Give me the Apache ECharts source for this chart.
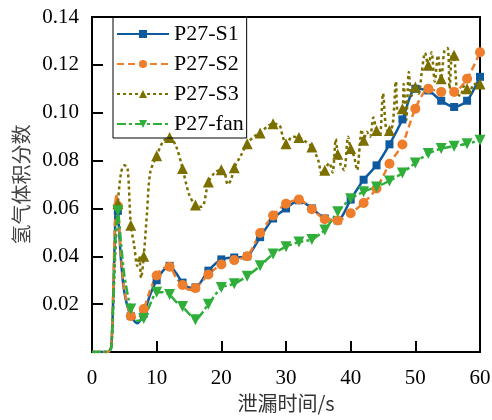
<!DOCTYPE html>
<html>
<head>
<meta charset="utf-8">
<script src="https://cdn.jsdelivr.net/npm/echarts@6/dist/echarts.min.js"></script>
<style>
  html, body { margin: 0; padding: 0; background: #fff; }
  #chart { width: 492px; height: 420px; }
</style>
</head>
<body>
<div id="chart"></div>
<script>
// Hydrogen volume fraction vs. leak time for four monitoring points
const seriesNames = ['P27-S1', 'P27-S2', 'P27-S3', 'P27-fan'];

const s1Time = [0, 2, 2.5, 3, 3.5, 3.75, 4, 4.5, 5, 6, 7, 8, 9, 10, 11, 12, 13, 14, 15, 16,
  18, 20, 22, 24, 26, 28, 30, 32, 34, 36, 38, 40, 42, 44, 46, 48, 50, 52, 54, 56, 58, 60];
const s1Value = [0, 0, 0, 0.002, 0.045, 0.065, 0.059, 0.038, 0.025, 0.015, 0.012, 0.016, 0.024, 0.030, 0.034, 0.036, 0.033, 0.029, 0.027, 0.027,
  0.034, 0.0387, 0.0395, 0.040, 0.048, 0.0558, 0.060, 0.0634, 0.060, 0.0558, 0.055, 0.0637, 0.072, 0.078, 0.0868, 0.0972, 0.110, 0.1093, 0.105, 0.1024, 0.105, 0.115];

const s2Time = [0, 2, 2.5, 3, 3.5, 3.75, 4, 4.5, 5, 6, 7, 8, 9, 10, 11, 12, 13, 14, 15, 16,
  18, 20, 22, 24, 26, 28, 30, 32, 34, 36, 38, 40, 42, 44, 46, 48, 50, 52, 54, 56, 58, 60];
const s2Value = [0, 0, 0, 0.003, 0.050, 0.066, 0.061, 0.040, 0.026, 0.015, 0.014, 0.018, 0.026, 0.032, 0.035, 0.0356, 0.031, 0.028, 0.026, 0.0267,
  0.0324, 0.0366, 0.0384, 0.040, 0.0497, 0.057, 0.062, 0.0637, 0.0597, 0.0555, 0.055, 0.058, 0.0623, 0.0683, 0.0787, 0.0867, 0.1017, 0.110, 0.1087, 0.1087, 0.1142, 0.1253];

const s3Time = [0, 2, 2.5, 3, 3.5, 4, 4.5, 5, 5.5, 6, 6.5, 7, 7.3, 7.6, 8, 8.5, 9, 10, 11, 12,
  13, 14, 15, 16, 17, 18, 19, 20, 20.5, 21, 21.5, 22, 23, 24, 25, 26, 27, 28, 29, 29.5,
  30, 31, 32, 33, 34, 35, 35.5, 36, 36.7, 37.2, 37.7, 38, 38.5, 39, 39.6, 40, 40.5, 41, 41.4, 41.7,
  42, 42.5, 43, 43.5, 44, 44.5, 45, 45.5, 46, 46.5, 47, 47.3, 48, 48.2, 48.6, 49, 49.4, 50, 50.5, 51,
  51.5, 52, 52.5, 53, 53.5, 54, 54.5, 55, 55.3, 55.7, 56, 56.5, 57, 57.5, 58, 58.5, 59, 60];
const s3Value = [0, 0, 0, 0.003, 0.035, 0.062, 0.075, 0.078, 0.077, 0.053, 0.045, 0.036, 0.040, 0.031, 0.040, 0.058, 0.075, 0.082, 0.088, 0.0896,
  0.086, 0.0767, 0.066, 0.0614, 0.0607, 0.071, 0.075, 0.0762, 0.075, 0.070, 0.072, 0.077, 0.082, 0.087, 0.090, 0.0915, 0.094, 0.0954, 0.0947, 0.090,
  0.087, 0.090, 0.0896, 0.088, 0.0857, 0.080, 0.0745, 0.076, 0.079, 0.075, 0.089, 0.0826, 0.078, 0.076, 0.090, 0.085, 0.082, 0.076, 0.086, 0.093,
  0.0885, 0.092, 0.090, 0.098, 0.0926, 0.090, 0.108, 0.093, 0.0926, 0.095, 0.113, 0.100, 0.1017, 0.112, 0.097, 0.117, 0.107, 0.1107, 0.108, 0.117,
  0.125, 0.1198, 0.1253, 0.113, 0.124, 0.1142, 0.126, 0.127, 0.110, 0.125, 0.124, 0.108, 0.107, 0.111, 0.110, 0.109, 0.112, 0.112];

const fanTime = [0, 2, 2.5, 3, 3.5, 3.75, 4, 4.5, 5, 6, 7, 8, 9, 10, 11, 12, 13, 14, 15, 16,
  18, 20, 22, 24, 26, 28, 30, 32, 34, 36, 38, 40, 42, 44, 46, 48, 50, 52, 54, 56, 58, 60];
const fanValue = [0, 0, 0, 0.002, 0.040, 0.052, 0.059, 0.045, 0.032, 0.018, 0.013, 0.014, 0.020, 0.025, 0.025, 0.024, 0.021, 0.019, 0.016, 0.0135,
  0.020, 0.027, 0.0285, 0.0317, 0.036, 0.041, 0.044, 0.046, 0.047, 0.051, 0.0586, 0.064, 0.067, 0.069, 0.0715, 0.0748, 0.079, 0.083, 0.085, 0.086, 0.087, 0.0885];

const xTicks = { min: 0, max: 60, step: 10 };
const yTicks = { min: 0, max: 0.14, step: 0.02 };

const FONT = '"Liberation Serif", "Times New Roman", serif';
const CJK = '"Noto Sans CJK SC", sans-serif';

// markers sit on every even second once the release starts; other samples are line-only
function toPoints(ts, vs) {
  return ts.map((t, i) => {
    const item = { value: [t, vs[i]] };
    if (t % 2 !== 0 || t < 4) item.symbol = 'none';
    return item;
  });
}

function lineSeries(name, ts, vs, color, dash, symbol, size, rotate, smooth) {
  return {
    name: name,
    type: 'line',
    data: toPoints(ts, vs),
    smooth: smooth,
    showSymbol: true,
    showAllSymbol: true,
    symbol: symbol,
    symbolSize: size,
    symbolRotate: rotate,
    color: color,
    itemStyle: { color: color },
    lineStyle: { color: color, width: 2.5, type: dash, cap: 'butt' },
    emphasis: { disabled: true },
    animation: false
  };
}

const chart = echarts.init(document.getElementById('chart'), null, { renderer: 'canvas' });

chart.setOption({
  backgroundColor: '#fff',
  animation: false,
  grid: {
    left: 92, right: 12, top: 17, bottom: 68,
    show: true, borderColor: '#000', borderWidth: 2,
    containLabel: false, outerBoundsMode: 'none'
  },
  legend: {
    orient: 'vertical',
    left: 113, top: 17,
    itemWidth: 52, itemHeight: 10, itemGap: 8,
    padding: [6, 3, 3, 3],
    borderColor: '#000', borderWidth: 1,
    textStyle: { fontFamily: FONT, fontSize: 22, color: '#000', lineHeight: 20 },
    data: seriesNames
  },
  xAxis: {
    type: 'value',
    min: xTicks.min, max: xTicks.max, interval: xTicks.step,
    name: '泄漏时间/s',
    nameLocation: 'middle', nameGap: 36,
    nameTextStyle: { fontFamily: CJK, fontSize: 20, color: '#333' },
    axisLine: { show: true, lineStyle: { color: '#000', width: 2 } },
    axisTick: { show: true, inside: true, length: 11, lineStyle: { color: '#000', width: 2 } },
    axisLabel: { fontFamily: FONT, fontSize: 21, color: '#000', margin: 16 },
    splitLine: { show: false }
  },
  yAxis: {
    type: 'value',
    min: yTicks.min, max: yTicks.max, interval: yTicks.step,
    name: '氢气体积分数',
    nameLocation: 'middle', nameGap: 60,
    nameTextStyle: { fontFamily: CJK, fontSize: 20, color: '#444' },
    axisLine: { show: true, lineStyle: { color: '#000', width: 2 } },
    axisTick: { show: true, inside: true, length: 11, lineStyle: { color: '#000', width: 2 } },
    axisLabel: {
      fontFamily: FONT, fontSize: 21, color: '#000', margin: 13,
      formatter: v => (v === 0 ? '' : v.toFixed(2))
    },
    splitLine: { show: false }
  },
  series: [
    lineSeries(seriesNames[0], s1Time, s1Value, '#0d5a9f', 'solid', 'rect', 8, 0, 0.25),
    lineSeries(seriesNames[1], s2Time, s2Value, '#ee7d2c', [7, 4], 'circle', 10, 0, 0.25),
    lineSeries(seriesNames[2], s3Time, s3Value, '#7b6f00', [3, 3], 'triangle', 11, 0, 0.3),
    lineSeries(seriesNames[3], fanTime, fanValue, '#2fae3a', [9, 3, 3, 3], 'triangle', 11, 180, 0.2)
  ]
});
</script>
</body>
</html>
